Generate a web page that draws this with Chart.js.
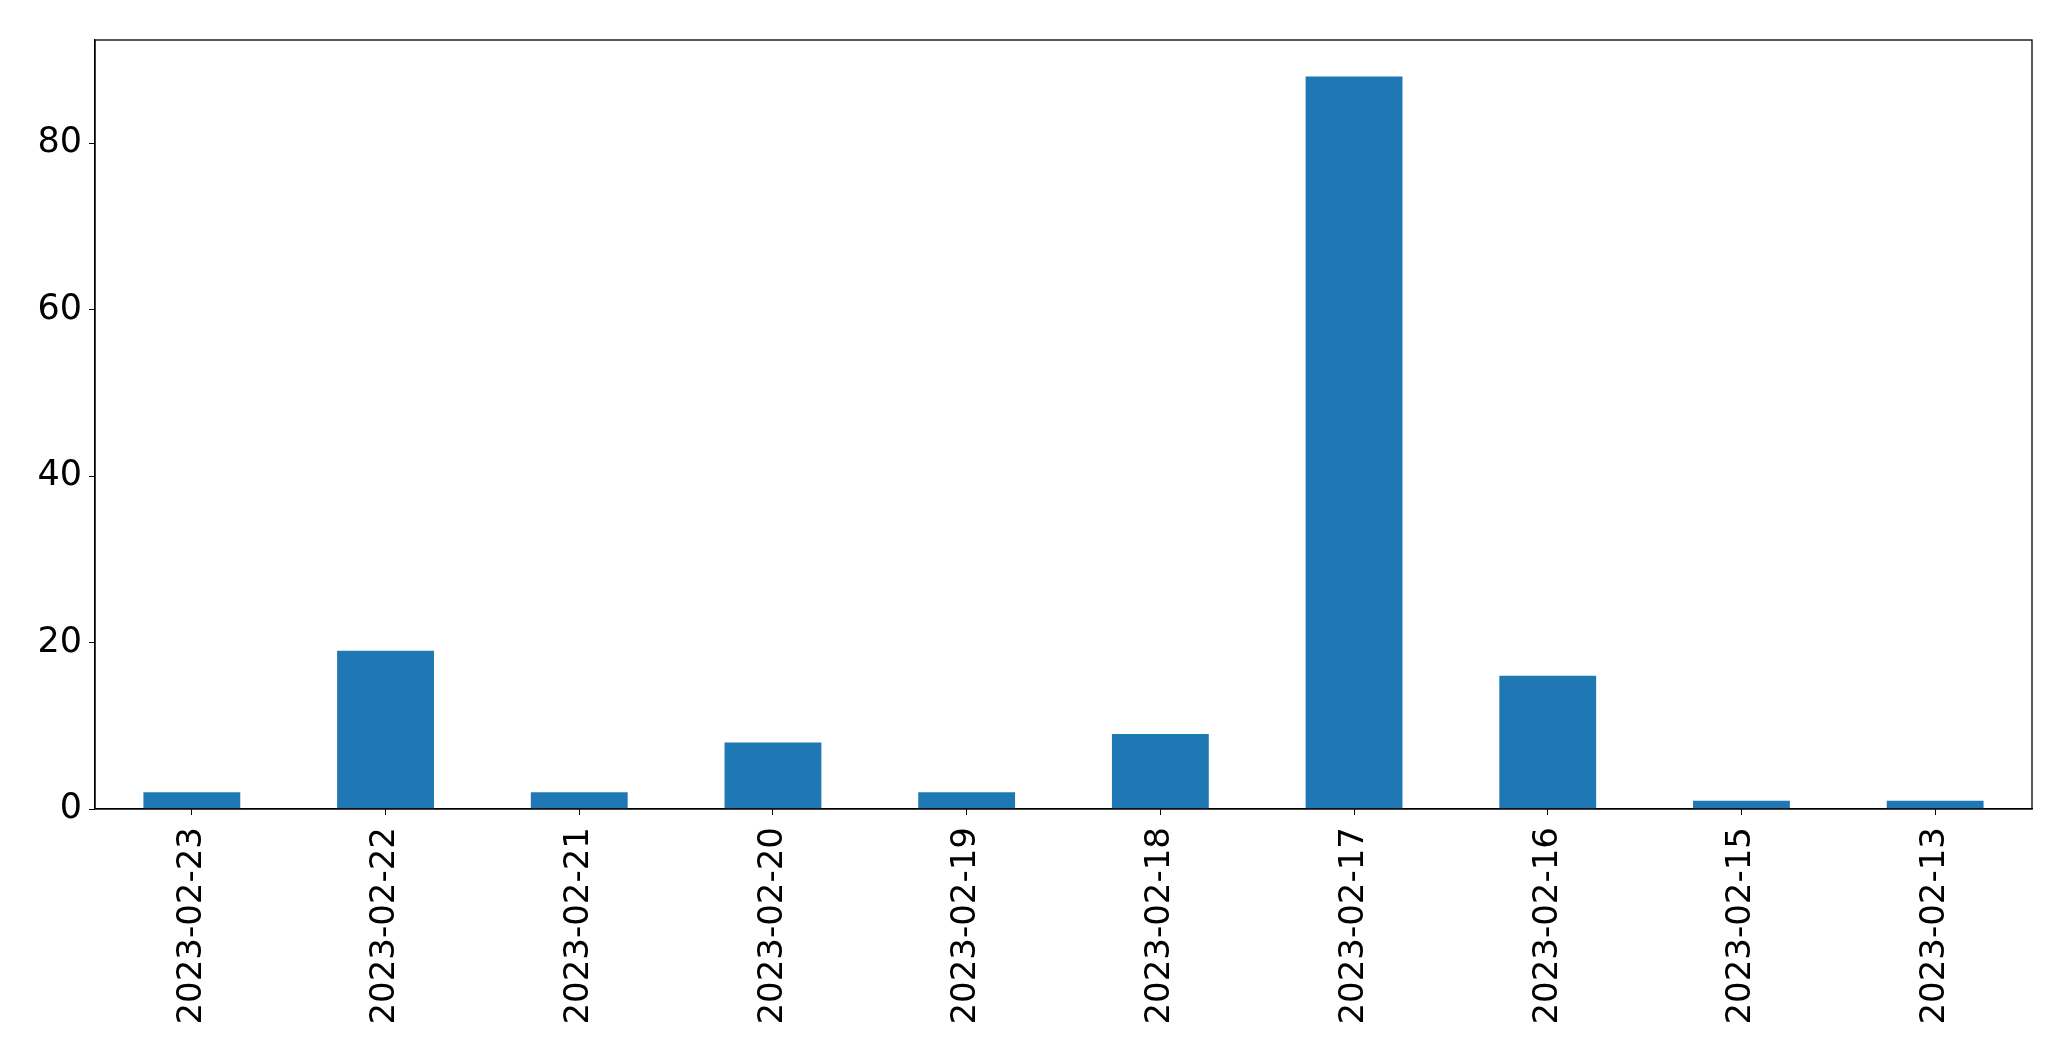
<!DOCTYPE html>
<html>
<head>
<meta charset="utf-8">
<script src="https://cdn.jsdelivr.net/npm/chart.js@4/dist/chart.umd.min.js"></script>
<style>
  body { margin: 0; background: #fff; }
  canvas { display: block; }
</style>
</head>
<body>
<canvas id="myBarChart" width="2071" height="1061"></canvas>
<script>
// Dados do gráfico
const categories = ['2023-02-23', '2023-02-22', '2023-02-21', '2023-02-20', '2023-02-19',
                    '2023-02-18', '2023-02-17', '2023-02-16', '2023-02-15', '2023-02-13'];
const counts = [2, 19, 2, 8, 2, 9, 88, 16, 1, 1];
const yTicks = [0, 20, 40, 60, 80];
const yMax = 92.4;

const ctx = document.getElementById('myBarChart').getContext('2d');

// moldura preta em volta da área do gráfico
const frame = {
  id: 'frame',
  afterDraw(chart) {
    const a = chart.chartArea;
    const c = chart.ctx;
    c.save();
    c.strokeStyle = '#000';
    c.lineWidth = 1.3;
    c.strokeRect(a.left, a.top, a.right - a.left, a.bottom - a.top);
    c.restore();
  }
};

const config = {
  type: 'bar',
  data: {
    labels: categories,
    datasets: [{
      data: counts,
      backgroundColor: '#1f77b4',
      borderWidth: 0,
      barPercentage: 0.5,
      categoryPercentage: 1.0
    }]
  },
  options: {
    responsive: false,
    animation: false,
    layout: { padding: { top: 40, right: 39, left: 0, bottom: 0 } },
    plugins: {
      legend: { display: false },
      tooltip: { enabled: false }
    },
    scales: {
      x: {
        offset: true,
        grid: { display: true, offset: false, drawOnChartArea: false, drawTicks: true, tickLength: 6, color: '#000' },
        border: { display: true, color: '#000', width: 1.3 },
        ticks: {
          color: '#000',
          font: { family: 'DejaVu Sans', size: 34 },
          minRotation: 90,
          maxRotation: 90,
          padding: 12,
          autoSkip: false
        },
        afterFit(scale) { scale.height = 252; }
      },
      y: {
        min: 0,
        max: yMax,
        grid: { display: true, drawOnChartArea: false, drawTicks: true, tickLength: 6, color: '#000' },
        border: { display: true, color: '#000', width: 1.3 },
        ticks: {
          color: '#000',
          font: { family: 'DejaVu Sans', size: 35 },
          padding: 7
        },
        afterBuildTicks(scale) { scale.ticks = yTicks.map(v => ({ value: v })); },
        afterFit(scale) { scale.width = 95; }
      }
    }
  },
  plugins: [frame]
};

new Chart(ctx, config);
</script>
</body>
</html>
